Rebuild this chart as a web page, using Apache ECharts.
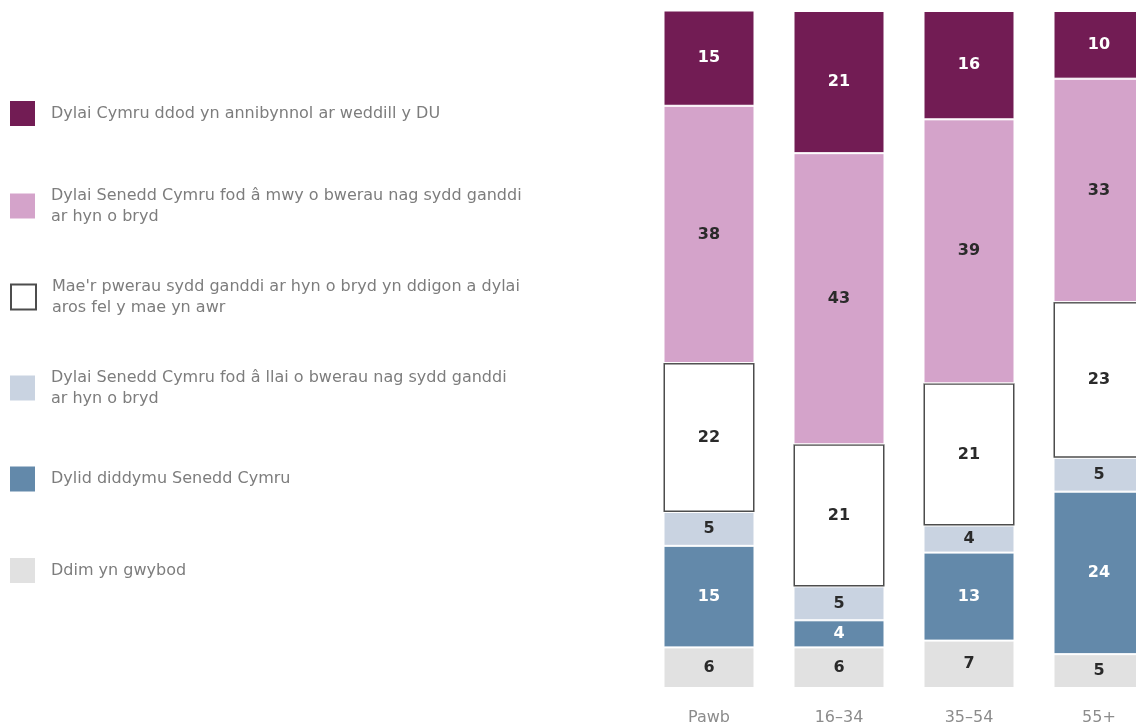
<!DOCTYPE html>
<html>
<head>
<meta charset="utf-8">
<script src="https://cdn.jsdelivr.net/npm/echarts@6/dist/echarts.min.js"></script>
<style>
html,body{margin:0;padding:0;background:#fff;}
#chart{width:1136px;height:728px;}
</style>
</head>
<body>
<div id="chart"></div>
<script>
const categories = ['Pawb', '16–34', '35–54', '55+'];
const seriesNames = [
  'Dylai Cymru ddod yn annibynnol ar weddill y DU',
  'Dylai Senedd Cymru fod â mwy o bwerau nag sydd ganddi ar hyn o bryd',
  "Mae'r pwerau sydd ganddi ar hyn o bryd yn ddigon a dylai aros fel y mae yn awr",
  'Dylai Senedd Cymru fod â llai o bwerau nag sydd ganddi ar hyn o bryd',
  'Dylid diddymu Senedd Cymru',
  'Ddim yn gwybod'
];
const legendLabels = [
  'Dylai Cymru ddod yn annibynnol ar weddill y DU',
  'Dylai Senedd Cymru fod â mwy o bwerau nag sydd ganddi\nar hyn o bryd',
  "Mae'r pwerau sydd ganddi ar hyn o bryd yn ddigon a dylai\naros fel y mae yn awr",
  'Dylai Senedd Cymru fod â llai o bwerau nag sydd ganddi\nar hyn o bryd',
  'Dylid diddymu Senedd Cymru',
  'Ddim yn gwybod'
];
// values per category
const dimYnGwybod = [6, 6, 7, 5];
const diddymu = [15, 4, 13, 24];
const llaiBwerau = [5, 5, 4, 5];
const digon = [22, 21, 21, 23];
const mwyBwerau = [38, 43, 39, 33];
const annibynnol = [15, 21, 16, 10];

const colors = ['#721c54', '#d4a3ca', '#ffffff', '#c9d3e1', '#6389aa', '#e1e1e1'];
const labelColors = ['#ffffff', '#2a2a2a', '#2a2a2a', '#2a2a2a', '#ffffff', '#2a2a2a'];
const valuesTopDown = [annibynnol, mwyBwerau, digon, llaiBwerau, diddymu, dimYnGwybod];
const legendCenters = [113.5, 206, 297, 388, 479, 570.5];
const legendLines = [1, 2, 2, 2, 1, 1];

const FONT = '"DejaVu Sans", sans-serif';

const series = [];
for (let i = valuesTopDown.length - 1; i >= 0; i--) {
  const isWhite = i === 2;
  series.push({
    name: seriesNames[i],
    type: 'bar',
    stack: 'all',
    barWidth: 91,
    data: valuesTopDown[i],
    itemStyle: {
      color: colors[i],
      borderColor: isWhite ? '#4d4d4d' : '#ffffff',
      borderWidth: isWhite ? 1.5 : 1
    },
    label: {
      show: true,
      position: 'inside',
      color: labelColors[i],
      fontFamily: FONT,
      fontWeight: 'bold',
      fontSize: 16
    },
    emphasis: { disabled: true }
  });
}

const legends = seriesNames.map((n, i) => {
  const h = Math.max(25, legendLines[i] * 21);
  const isWhite = i === 2;
  return {
    data: [n],
    left: 10,
    top: legendCenters[i] - h / 2,
    padding: 0,
    orient: 'vertical',
    icon: 'rect',
    itemWidth: 25,
    itemHeight: 25,
    selectedMode: false,
    itemStyle: isWhite ? { borderColor: '#4d4d4d', borderWidth: 2 } : { borderWidth: 0 },
    formatter: () => legendLabels[i],
    textStyle: {
      color: '#7d7d7d',
      fontFamily: FONT,
      fontSize: 16,
      lineHeight: 21,
      padding: [0, 0, 0, 11]
    }
  };
});

const chart = echarts.init(document.getElementById('chart'));
chart.setOption({
  animation: false,
  backgroundColor: '#ffffff',
  legend: legends,
  grid: { left: 644, right: -28, top: 11, bottom: 40, containLabel: false, outerBoundsMode: 'none' },
  xAxis: {
    type: 'category',
    data: categories,
    axisLine: { show: false },
    axisTick: { show: false },
    axisLabel: { color: '#8c8c8c', fontFamily: FONT, fontSize: 16, margin: 22 }
  },
  yAxis: { type: 'value', min: 0, max: 100, show: false },
  series: series
});
</script>
</body>
</html>
